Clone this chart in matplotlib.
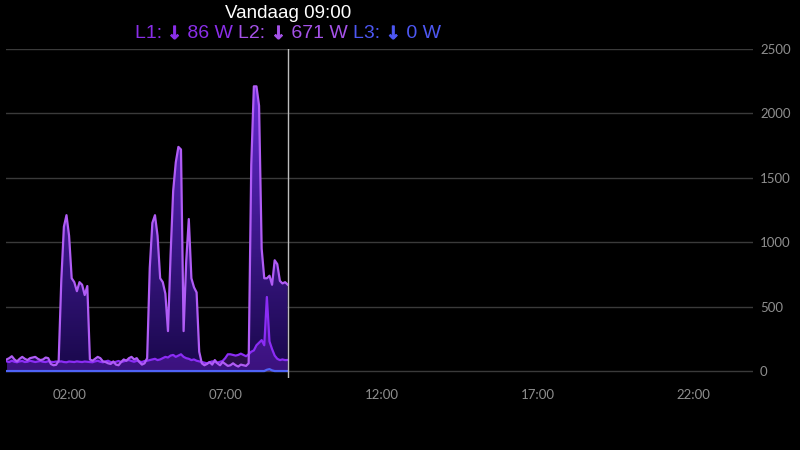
import numpy as np
import matplotlib
matplotlib.use('Agg')
import matplotlib.pyplot as plt
import matplotlib.patheffects as pe
from matplotlib.colors import LinearSegmentedColormap
from matplotlib.transforms import blended_transform_factory

# power per phase, one value every 5 minutes from 00:00 to 09:00
minutes = list(range(0, 545, 5))
l2_power = [90, 100, 115, 90, 75, 95, 110, 95, 85, 100,
            105, 110, 95, 85, 90, 105, 100, 55, 45, 48,
            80, 700, 1120, 1210, 1050, 720, 690, 620, 690, 670,
            590, 660, 90, 80, 95, 110, 100, 75, 70, 60,
            55, 75, 50, 45, 70, 90, 80, 100, 110, 90,
            100, 70, 50, 60, 100, 800, 1150, 1210, 1050, 720,
            690, 600, 310, 900, 1400, 1620, 1740, 1720, 310, 850,
            1180, 720, 650, 610, 150, 60, 45, 55, 70, 50,
            85, 60, 45, 70, 55, 40, 45, 60, 45, 35,
            50, 45, 40, 60, 1600, 2210, 2210, 2060, 950, 720,
            720, 740, 670, 860, 830, 700, 680, 690, 671]
l1_power = [75, 70, 80, 72, 68, 75, 78, 70, 72, 80,
            75, 70, 74, 78, 72, 70, 76, 72, 70, 74,
            72, 75, 70, 68, 74, 72, 70, 75, 72, 70,
            74, 72, 70, 68, 75, 80, 72, 68, 75, 80,
            70, 65, 72, 78, 70, 75, 82, 85, 78, 72,
            80, 75, 70, 78, 80, 85, 90, 95, 85, 90,
            100, 110, 105, 120, 125, 110, 120, 130, 110, 100,
            95, 85, 90, 80, 75, 70, 65, 60, 68, 75,
            70, 65, 72, 78, 100, 130, 130, 125, 120, 125,
            135, 125, 115, 130, 150, 160, 200, 220, 240, 200,
            575, 230, 170, 120, 95, 85, 90, 85, 86]
l3_power = [0] * 100 + [10, 15, 5] + [0] * 6

y_ticks = [0, 500, 1000, 1500, 2000, 2500]
x_ticks = [2, 7, 12, 17, 22]
x_labels = ['02:00', '07:00', '12:00', '17:00', '22:00']
cursor_hour = 9
title = 'Vandaag 09:00'
phase_labels = ['L1:', 'L2:', 'L3:']
phase_now = ['86 W', '671 W', '0 W']
phase_colors = ['#8a2ee8', '#a552e8', '#4d57f2']

hours = np.array(minutes) / 60.0
l1 = np.array(l1_power)
l2 = np.array(l2_power)
l3 = np.array(l3_power)

fig = plt.figure(figsize=(8, 4.5), dpi=100, facecolor='black')
ax = fig.add_axes([6 / 800, 1 - 378 / 450, 747 / 800, 329 / 450])
ax.set_facecolor('black')

# gradient fill under L2
poly = ax.fill_between(hours, l2, 0, color='none', lw=0)
cmap = LinearSegmentedColormap.from_list('l2fill', ['#19084b', '#6e2de1'])
grad = np.linspace(0, 1, 256).reshape(-1, 1)
im = ax.imshow(grad, extent=[0, cursor_hour, 0, 2500], origin='lower',
               aspect='auto', cmap=cmap, zorder=1)
im.set_clip_path(poly.get_paths()[0], ax.transData)

ax.fill_between(hours, l1, 0, color='#8b2cf5', alpha=0.3, lw=0, zorder=2)

ax.plot(hours, l3, color='#4f63f7', lw=1.6, zorder=3)
ax.plot(hours, l1, color='#8b2cf5', lw=1.6, zorder=4, solid_joinstyle='round')
ax.plot(hours, l2, color='#b05cf5', lw=1.6, zorder=5, solid_joinstyle='round')

ax.axvline(cursor_hour, color='#bdbdbd', lw=1, zorder=6)

ax.set_xlim(-0.02, 23.9)
ax.set_ylim(-54, 2500)
ax.set_yticks(y_ticks)
ax.set_xticks(x_ticks)
ax.set_xticklabels(x_labels)
ax.grid(axis='y', color='#3a3a3a', lw=1)
ax.set_axisbelow(True)
ax.yaxis.tick_right()
ax.tick_params(length=0, colors='#8e8e8e', labelsize=9.5)
ax.tick_params(axis='y', pad=5)
ax.tick_params(axis='x', pad=8)
for lab in ax.get_xticklabels() + ax.get_yticklabels():
    lab.set_fontfamily('Lato')
for s in ax.spines.values():
    s.set_visible(False)

# header centred on the cursor
tr = blended_transform_factory(ax.transData, fig.transFigure)
fam = ['Liberation Sans', 'DejaVu Sans']
fig.text(cursor_hour, 1 - 13 / 450, title, transform=tr, ha='center',
         va='center', color='white', fontsize=13.5, family=fam)

fig.canvas.draw()
renderer = fig.canvas.get_renderer()
pieces = []
for i in range(3):
    tail = ' ' if i < 2 else ''
    pieces.append((phase_labels[i] + ' ', phase_colors[i], fam, 'normal', 14, False))
    pieces.append(('\u2193', phase_colors[i], ['DejaVu Sans'], 'bold', 13, True))
    pieces.append((' ' + phase_now[i] + tail, phase_colors[i], fam, 'normal', 14, False))
texts = []
widths = []
for txt, col, f, wt, sz, thick in pieces:
    t = fig.text(0, 1 - 34 / 450, txt, color=col, fontsize=sz, family=f,
                 fontweight=wt, va='center', ha='left')
    if thick:
        t.set_path_effects([pe.withStroke(linewidth=0.6, foreground=col)])
    texts.append(t)
    widths.append(t.get_window_extent(renderer).width)
cx = ax.transData.transform((cursor_hour, 0))[0]
start = cx - sum(widths) / 2
for t, w in zip(texts, widths):
    t.set_x(start / fig.bbox.width)
    start += w

fig.savefig('out.png', dpi=100, facecolor='black')
